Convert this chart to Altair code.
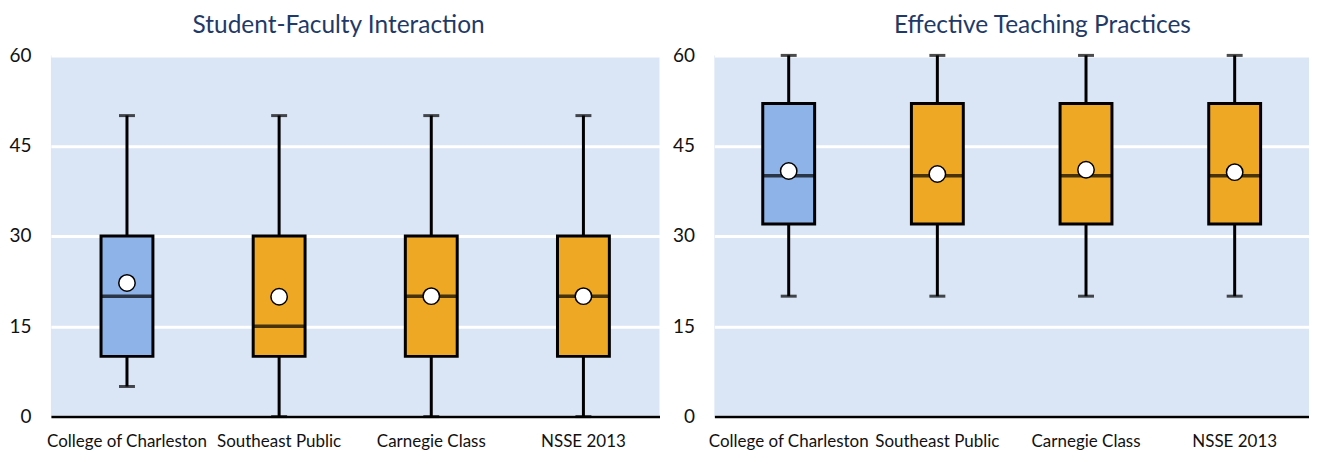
import altair as alt
import pandas as pd

groups = ["College of Charleston", "Southeast Public", "Carnegie Class", "NSSE 2013"]
box_colors = ["#8EB3E9", "#EEA823", "#EEA823", "#EEA823"]

sfi_min = [5, 0, 0, 0]
sfi_q1 = [10, 10, 10, 10]
sfi_med = [20, 15, 20, 20]
sfi_q3 = [30, 30, 30, 30]
sfi_max = [50, 50, 50, 50]
sfi_mean = [22.2, 19.9, 20.0, 20.0]

etp_min = [20, 20, 20, 20]
etp_q1 = [32, 32, 32, 32]
etp_med = [40, 40, 40, 40]
etp_q3 = [52, 52, 52, 52]
etp_max = [60, 60, 60, 60]
etp_mean = [40.8, 40.3, 41.0, 40.6]

y_ticks = [0, 15, 30, 45, 60]

FONT = "Lato"


def make_df(mn, q1, med, q3, mx, mean):
    return pd.DataFrame({"group": groups, "color": box_colors, "min": mn, "q1": q1,
                         "median": med, "q3": q3, "max": mx, "mean": mean})


def panel(df, title, width, dx):
    xenc = alt.X("group:N", sort=groups, title=None,
                 scale=alt.Scale(paddingInner=0, paddingOuter=0),
                 axis=alt.Axis(labelAngle=0, ticks=False, domain=True, domainColor="#000000",
                               domainWidth=2.5, labelFontSize=17, labelPadding=17,
                               labelColor="#111111", labelFont=FONT, grid=False))
    yscale = alt.Scale(domain=[0, 60], nice=False)
    base = alt.Chart(df).encode(x=xenc)
    whisk = base.mark_rule(color="black", strokeWidth=3).encode(
        y=alt.Y("min:Q", scale=yscale, title=None,
                axis=alt.Axis(values=y_ticks, grid=True, gridColor="white", gridWidth=3,
                              domain=False, ticks=False, labelFontSize=19, labelPadding=20,
                              labelColor="#111111", labelFont=FONT)),
        y2="max:Q")
    cap_lo = base.mark_tick(color="black", size=16, thickness=3, orient="horizontal").encode(
        y=alt.Y("min:Q", scale=yscale))
    cap_hi = base.mark_tick(color="black", size=16, thickness=3, orient="horizontal").encode(
        y=alt.Y("max:Q", scale=yscale))
    box = base.mark_bar(size=52, stroke="black", strokeWidth=3).encode(
        y=alt.Y("q1:Q", scale=yscale), y2="q3:Q",
        color=alt.Color("color:N", scale=None))
    med = base.mark_tick(color="black", size=52, thickness=3.5, orient="horizontal").encode(
        y=alt.Y("median:Q", scale=yscale))
    mean = base.mark_point(shape="circle", filled=True, fill="white", stroke="black",
                           strokeWidth=1.5, size=270, opacity=1).encode(
        y=alt.Y("mean:Q", scale=yscale))
    return alt.layer(whisk, cap_lo, cap_hi, box, med, mean).properties(
        width=width, height=362,
        title=alt.TitleParams(title, anchor="start", frame="group", dx=dx, offset=8,
                              fontSize=24.5, font=FONT, fontWeight="normal", color="#1F3A68"))


left = panel(make_df(sfi_min, sfi_q1, sfi_med, sfi_q3, sfi_max, sfi_mean),
             "Student-Faculty Interaction", 610, 142)
right = panel(make_df(etp_min, etp_q1, etp_med, etp_q3, etp_max, etp_mean),
              "Effective Teaching Practices", 596, 180)

chart = alt.hconcat(left, right, spacing=12).properties(
    padding={"left": 0, "top": 4, "right": 0, "bottom": 0}
).configure_view(fill="#DAE5F6", stroke=None)

chart.save("out.html", embed_options={"renderer": "svg", "actions": False})
